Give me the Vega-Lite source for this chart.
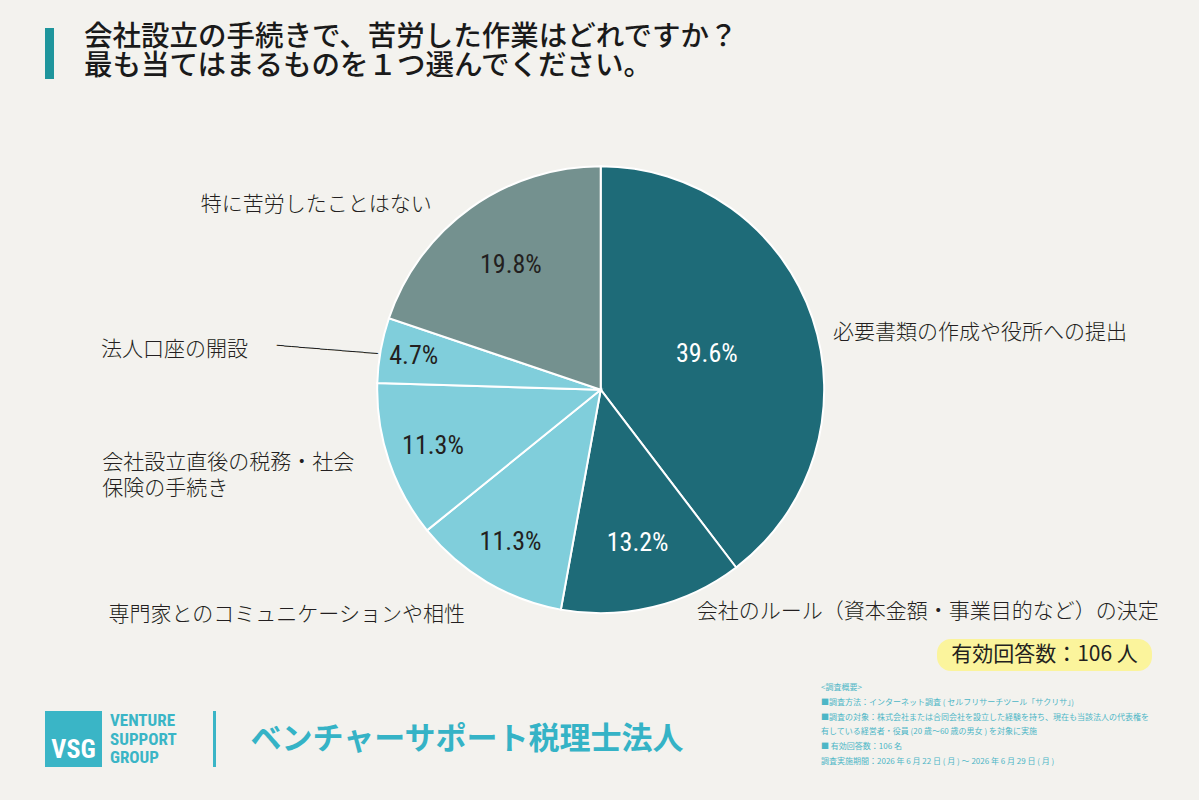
{
  "$schema": "https://vega.github.io/schema/vega-lite/v6.json",
  "background": "#f3f2ee",
  "padding": {"left": 45, "top": 20, "right": 0, "bottom": 0},
  "config": {"view": {"stroke": null}, "font": "Noto Sans CJK JP"},
  "datasets": {
    "slices": [
      {"rank": 1, "task": "必要書類の作成や役所への提出", "share": 0.396},
      {"rank": 2, "task": "会社のルール（資本金額・事業目的など）の決定", "share": 0.132},
      {"rank": 3, "task": "専門家とのコミュニケーションや相性", "share": 0.113},
      {"rank": 4, "task": "会社設立直後の税務・社会\n保険の手続き", "share": 0.113},
      {"rank": 5, "task": "法人口座の開設", "share": 0.047},
      {"rank": 6, "task": "特に苦労したことはない", "share": 0.198}
    ]
  },
  "spacing": 0,
  "bounds": "full",
  "vconcat": [
    {
      "spacing": 29,
      "bounds": "flush",
      "hconcat": [
        {"width": 9, "height": 67, "data": {"values": [{}]}, "mark": {"type": "bar", "orient": "horizontal", "height": 51, "color": "#1e959c"}, "encoding": {}},
        {
          "width": 2,
          "height": 33,
          "data": {"values": [{"text": "会社設立の手続きで、苦労した作業はどれですか？\n最も当てはまるものを１つ選んでください。"}]},
          "mark": {"type": "text", "align": "left", "baseline": "middle", "lineBreak": "\n", "lineHeight": 29, "fontSize": 28.5, "fontWeight": 500, "font": "Noto Sans CJK JP", "color": "#1a1a1a"},
          "encoding": {"text": {"field": "text", "type": "nominal"}}
        },
        {"width": 1, "height": 120.6, "data": {"values": [{}]}, "mark": {"type": "rect", "opacity": 0}, "encoding": {}}
      ]
    },
    {
      "width": 1111.4,
      "height": 497.4,
      "data": {"name": "slices"},
      "encoding": {
        "theta": {"field": "share", "type": "quantitative", "stack": true},
        "order": {"field": "rank", "type": "quantitative"}
      },
      "layer": [
        {
          "mark": {"type": "arc", "outerRadius": 223.5, "stroke": "#ffffff", "strokeWidth": 2},
          "encoding": {
            "color": {
              "field": "task",
              "type": "nominal",
              "scale": {
                "domain": ["必要書類の作成や役所への提出", "会社のルール（資本金額・事業目的など）の決定", "専門家とのコミュニケーションや相性", "会社設立直後の税務・社会\n保険の手続き", "法人口座の開設", "特に苦労したことはない"],
                "range": ["#1e6b78", "#1e6b78", "#80cedb", "#80cedb", "#80cedb", "#74918f"]
              },
              "legend": null
            }
          }
        },
        {
          "mark": {
            "type": "text",
            "radius": {"expr": "datum.rank === 1 ? 112 : datum.rank === 2 ? 158 : datum.rank === 6 ? 154 : datum.rank === 5 ? 190 : 177"},
            "fontSize": 26,
            "font": "Liberation Sans Narrow, Roboto Condensed, DejaVu Sans Condensed, Roboto",
            "align": "center",
            "baseline": "middle"
          },
          "encoding": {
            "text": {"field": "share", "type": "quantitative", "format": ".1%"},
            "color": {"condition": {"test": "datum.rank <= 2", "value": "#ffffff"}, "value": "#231f20"}
          }
        },
        {
          "mark": {
            "type": "text",
            "radius": 240,
            "lineBreak": "\n",
            "lineHeight": 26,
            "fontSize": 21,
            "fontWeight": 300,
            "font": "Noto Sans CJK JP",
            "baseline": "middle",
            "align": {"expr": "(datum.rank <= 2 || datum.rank === 4) ? 'left' : 'right'"},
            "dx": {"expr": "datum.rank === 1 ? 5 : datum.rank === 2 ? 40 : datum.rank === 3 ? -13.5 : datum.rank === 4 ? -271 : datum.rank === 5 ? -116.5 : -29"},
            "dy": {"expr": "datum.rank === 1 ? 20.5 : datum.rank === 2 ? -11 : datum.rank === 3 ? 19 : datum.rank === 4 ? -3.4 : datum.rank === 5 ? 3 : 10.5"}
          },
          "encoding": {
            "text": {"field": "task", "type": "nominal"},
            "color": {"value": "#231f20"}
          }
        },
        {
          "mark": {"type": "text", "radius": {"expr": "datum.rank === 5 ? 277 : 0"}, "dy": 8.8, "angle": 4.7, "fontSize": 12, "font": "DejaVu Sans", "align": "center", "baseline": "middle"},
          "encoding": {
            "text": {"condition": {"test": "datum.rank === 5", "value": "──────────────"}, "value": ""},
            "color": {"value": "#231f20"}
          }
        }
      ]
    },
    {
      "spacing": 0,
      "bounds": "flush",
      "hconcat": [
        {"width": 892, "height": 40, "data": {"values": [{}]}, "mark": {"type": "rect", "opacity": 0}, "encoding": {}},
        {
          "width": 215,
          "height": 32,
          "data": {"values": [{"text": "有効回答数：106 人"}]},
          "layer": [
            {"mark": {"type": "rect", "color": "#fbf49c", "cornerRadius": 14}, "encoding": {}},
            {
              "mark": {"type": "text", "fontSize": 21, "font": "Noto Sans CJK JP", "color": "#231f20", "align": "center", "baseline": "middle"},
              "encoding": {"text": {"field": "text", "type": "nominal"}}
            }
          ]
        },
        {"width": 47, "height": 1, "data": {"values": [{}]}, "mark": {"type": "rect", "opacity": 0}, "encoding": {}}
      ]
    },
    {
      "spacing": 0,
      "bounds": "flush",
      "hconcat": [
        {
          "width": 57,
          "height": 120,
          "data": {"values": [{"text": "VSG"}]},
          "layer": [
            {"mark": {"type": "bar", "orient": "horizontal", "height": 56, "color": "#3ab5c6"}, "encoding": {}},
            {
              "mark": {"type": "text", "fontSize": 26, "fontWeight": "bold", "font": "Liberation Sans Narrow, Roboto Condensed, DejaVu Sans Condensed, Roboto", "color": "#ffffff", "align": "center", "baseline": "middle", "dy": 11},
              "encoding": {"text": {"field": "text", "type": "nominal"}}
            }
          ]
        },
        {
          "width": 16,
          "height": 84,
          "data": {"values": [{"text": "VENTURE\nSUPPORT\nGROUP"}]},
          "mark": {"type": "text", "lineBreak": "\n", "lineHeight": 18.5, "fontSize": 17, "fontWeight": "bold", "font": "Liberation Sans Narrow, Roboto Condensed, DejaVu Sans Condensed, Roboto", "color": "#3ab5c6", "align": "left", "baseline": "middle"},
          "encoding": {"text": {"field": "text", "type": "nominal"}}
        },
        {"width": 94.5, "height": 122, "data": {"values": [{}]}, "mark": {"type": "rect", "opacity": 0}, "encoding": {}},
        {"width": 3, "height": 120, "data": {"values": [{}]}, "mark": {"type": "bar", "orient": "horizontal", "height": 56, "color": "#3ab5c6"}, "encoding": {}},
        {
          "width": 69,
          "height": 122,
          "data": {"values": [{"text": "ベンチャーサポート税理士法人"}]},
          "mark": {"type": "text", "fontSize": 31, "fontWeight": "bold", "font": "Noto Sans CJK JP", "color": "#35b3c6", "align": "left", "baseline": "middle"},
          "encoding": {"text": {"field": "text", "type": "nominal"}}
        },
        {"width": 533.5, "height": 1, "data": {"values": [{}]}, "mark": {"type": "rect", "opacity": 0}, "encoding": {}},
        {
          "width": 4,
          "height": 18,
          "data": {"values": [{"text": "<調査概要>\n■調査方法：インターネット調査 ( セルフリサーチツール「サクリサ」)\n■調査の対象：株式会社または合同会社を設立した経験を持ち、現在も当該法人の代表権を\n有している経営者・役員 (20 歳〜60 歳の男女 ) を対象に実施\n■ 有効回答数：106 名\n調査実施期間：2026 年 6 月 22 日 ( 月 ) 〜 2026 年 6 月 29 日 ( 月 )"}]},
          "mark": {"type": "text", "lineBreak": "\n", "lineHeight": 14.8, "fontSize": 8, "font": "Noto Sans CJK JP", "color": "#4db6c6", "align": "left", "baseline": "middle"},
          "encoding": {"text": {"field": "text", "type": "nominal"}}
        }
      ]
    }
  ]
}
